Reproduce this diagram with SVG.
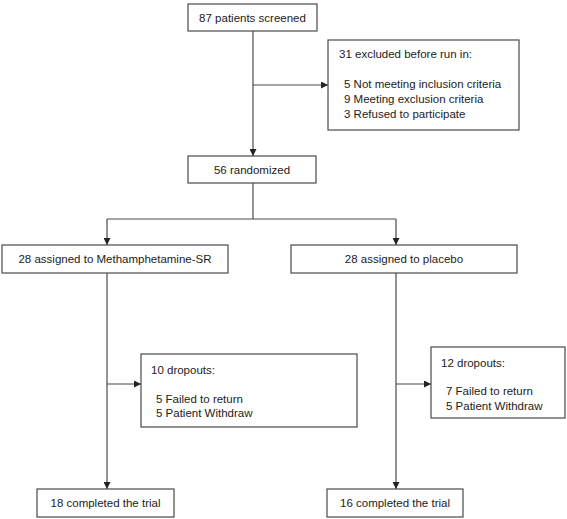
<svg xmlns="http://www.w3.org/2000/svg" width="567" height="519" viewBox="0 0 567 519">
<style>
.box{fill:#fff;stroke:#4a4a4a;stroke-width:1.2}
.ln{fill:none;stroke:#4a4a4a;stroke-width:1.2}
text{font-family:"Liberation Sans",Arial,sans-serif;font-size:11.5px;fill:#222}
.c{text-anchor:middle}
</style>
<defs>
<marker id="ah" viewBox="0 0 10 10" refX="10" refY="5" markerWidth="7" markerHeight="7" markerUnits="userSpaceOnUse" orient="auto">
<path d="M0,0L10,5L0,10z" fill="#222"/>
</marker>
</defs>
<rect width="567" height="519" fill="#fff"/>
<g id="connectors">
<path class="ln" d="M253,31V156" marker-end="url(#ah)"/>
<path class="ln" d="M253,85H328" marker-end="url(#ah)"/>
<path class="ln" d="M253,183V219"/>
<path class="ln" d="M107,219H396"/>
<path class="ln" d="M107,219V245" marker-end="url(#ah)"/>
<path class="ln" d="M396,219V245" marker-end="url(#ah)"/>
<path class="ln" d="M107,273V489" marker-end="url(#ah)"/>
<path class="ln" d="M107,384H141" marker-end="url(#ah)"/>
<path class="ln" d="M396,273V489" marker-end="url(#ah)"/>
<path class="ln" d="M396,384H431" marker-end="url(#ah)"/>
</g>
<g id="screened">
<rect class="box" x="188" y="4" width="129" height="27"/>
<text class="c" x="252.5" y="21.5">87 patients screened</text>
</g>
<g id="excluded">
<rect class="box" x="328" y="40" width="191" height="90"/>
<text x="339" y="58">31 excluded before run in:</text>
<text x="344" y="88">5 Not meeting inclusion criteria</text>
<text x="344" y="103">9 Meeting exclusion criteria</text>
<text x="344" y="118">3 Refused to participate</text>
</g>
<g id="randomized">
<rect class="box" x="188" y="156" width="128" height="27"/>
<text class="c" x="252" y="173.5">56 randomized</text>
</g>
<g id="meth">
<rect class="box" x="2" y="245" width="226" height="28"/>
<text class="c" x="115" y="263">28 assigned to Methamphetamine-SR</text>
</g>
<g id="placebo">
<rect class="box" x="291" y="245" width="226" height="28"/>
<text class="c" x="404" y="263">28 assigned to placebo</text>
</g>
<g id="dropouts-meth">
<rect class="box" x="141" y="354" width="216" height="73"/>
<text x="151" y="374">10 dropouts:</text>
<text x="156" y="403">5 Failed to return</text>
<text x="156" y="417">5 Patient Withdraw</text>
</g>
<g id="dropouts-placebo">
<rect class="box" x="431" y="347" width="134" height="71"/>
<text x="441" y="367">12 dropouts:</text>
<text x="446" y="395">7 Failed to return</text>
<text x="446" y="410">5 Patient Withdraw</text>
</g>
<g id="completed-meth">
<rect class="box" x="37" y="489" width="137" height="28"/>
<text class="c" x="105.5" y="507">18 completed the trial</text>
</g>
<g id="completed-placebo">
<rect class="box" x="327" y="489" width="136" height="28"/>
<text class="c" x="395" y="507">16 completed the trial</text>
</g>
</svg>
